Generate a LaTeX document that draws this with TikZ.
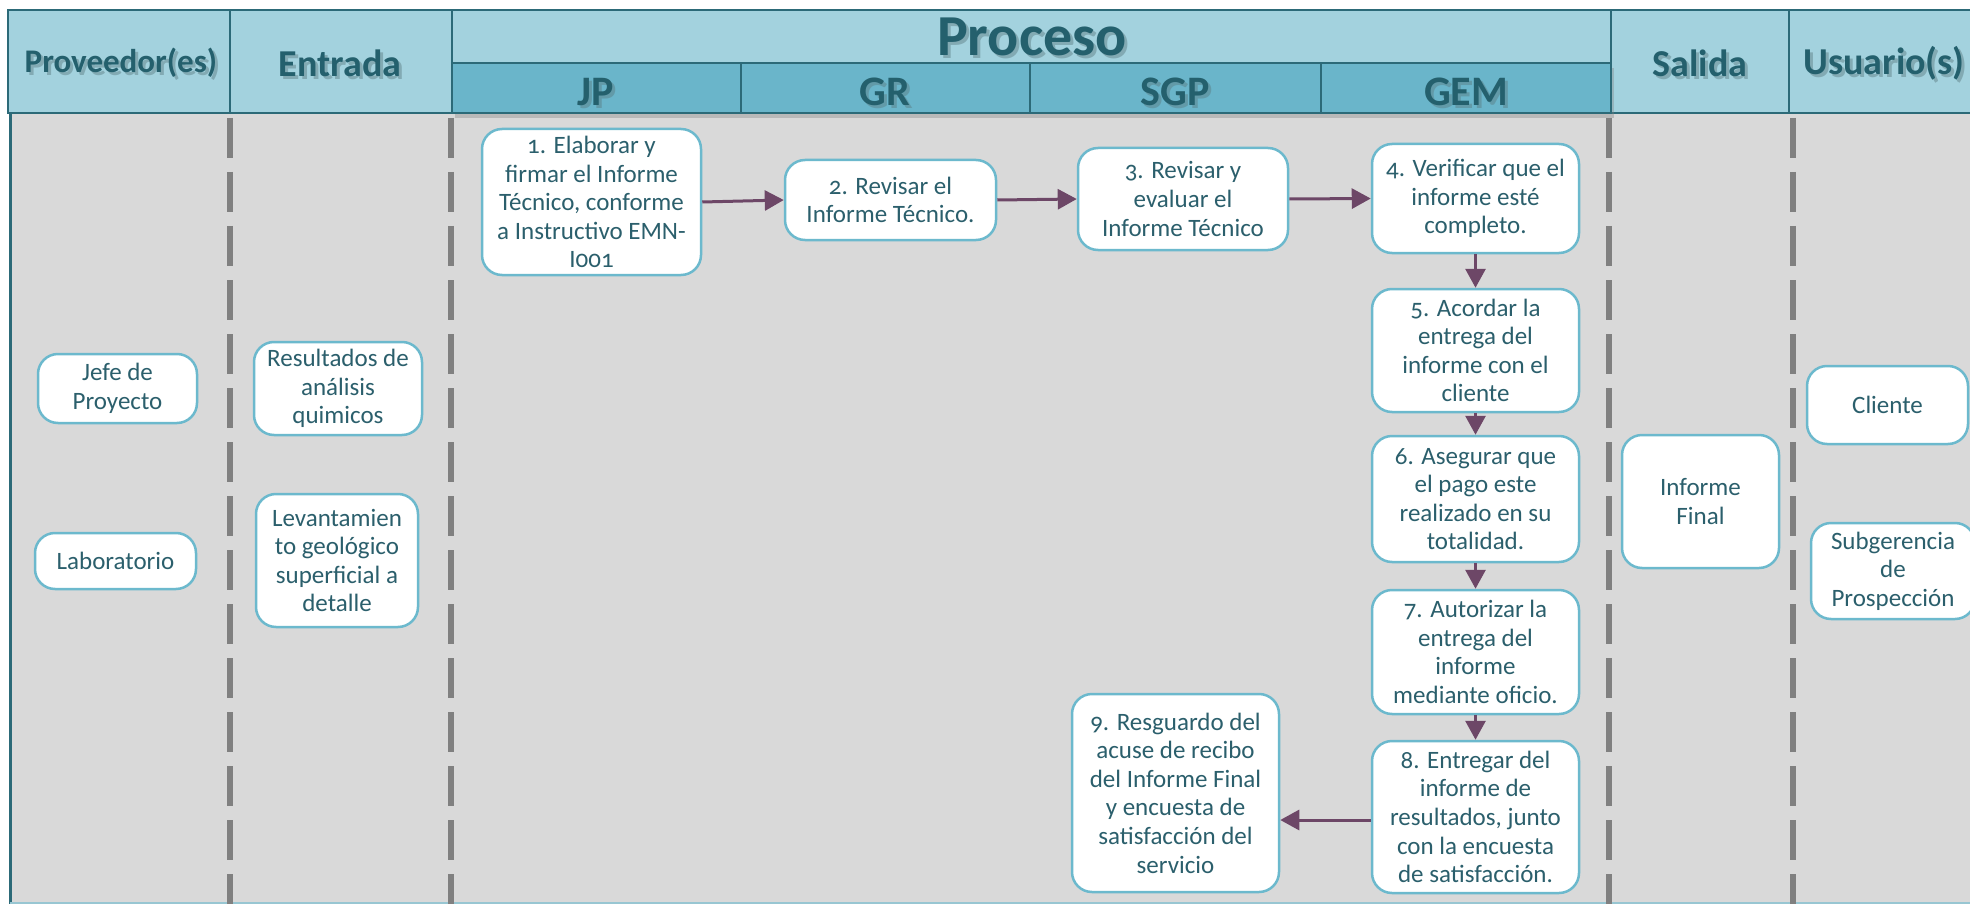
\documentclass[tikz,border=0pt]{standalone}
\usepackage{fontspec}
\setmainfont{Carlito}[Numbers=OldStyle]
\usetikzlibrary{arrows.meta,shadows}
\definecolor{hlight}{HTML}{A3D2DE}
\definecolor{hdark}{HTML}{6AB5CA}
\definecolor{hborder}{HTML}{2C6A78}
\definecolor{htext}{HTML}{24606D}
\definecolor{bodygray}{HTML}{D9D9D9}
\definecolor{dashgray}{HTML}{808080}
\definecolor{boxborder}{HTML}{6CB9CD}
\definecolor{boxtext}{HTML}{2B5F6C}
\definecolor{arrowc}{HTML}{6D4767}
\definecolor{shadowc}{HTML}{5A7A80}
\tikzset{
  hcell/.style={draw=hborder, line width=2.5pt},
  subcell/.style={hcell, fill=hdark, drop shadow={shadow xshift=3pt, shadow yshift=-5pt, opacity=0.35}},
  htxt/.style={text=htext, font=\bfseries\fontsize{#1}{#1}\selectfont, inner sep=0pt},
  hshadow/.style={text=shadowc, opacity=0.45, font=\bfseries\fontsize{#1}{#1}\selectfont, inner sep=0pt},
  sepline/.style={draw=dashgray, line width=6pt, dash pattern=on 40pt off 14pt},
  procbox/.style={draw=boxborder, fill=white, line width=2.5pt, rounded corners=20pt,
    text=boxtext, align=center, inner sep=0pt,
    font=\fontsize{25}{28.6}\selectfont},
  flow/.style={draw=arrowc, line width=3pt, -{Triangle[length=19pt,width=20pt]}},
}
\begin{document}
\begin{tikzpicture}[x=1pt,y=-1pt]
\useasboundingbox (0,0) rectangle (1970,904);
\fill[white] (0,0) rectangle (1970,904);
% body
\fill[bodygray] (10,113) rectangle (1980,903);
\draw[hborder, line width=3pt] (10,113) -- (10,904);
\draw[boxborder!60!bodygray, line width=2pt] (10,903) -- (1975,903);
% header cells
\draw[hcell, fill=hlight] (8,10) rectangle (230,113);
\draw[hcell, fill=hlight] (230,10) rectangle (452,113);
\draw[hcell, fill=hlight] (452,10) rectangle (1611,63);
\draw[hcell, fill=hlight] (1611,10) rectangle (1789,113);
\draw[hcell, fill=hlight] (1789,10) rectangle (1980,113);
\draw[subcell] (452,63) rectangle (741,113);
\draw[subcell] (741,63) rectangle (1030,113);
\draw[subcell] (1030,63) rectangle (1321,113);
\draw[subcell] (1321,63) rectangle (1611,113);
% header labels (shadow + text)
\node[hshadow=33] (sprov) at (124,66) {Proveedor(es)};
\node[htxt=33] (hprov) at (121,63) {Proveedor(es)};
\node[hshadow=38] (sent) at (343,66) {Entrada};
\node[htxt=38] (hent) at (340,63) {Entrada};
\node[hshadow=58] (sproc) at (1035,40) {Proceso};
\node[htxt=58] (hproc) at (1032,37) {Proceso};
\node[hshadow=38] (ssal) at (1703,66) {Salida};
\node[htxt=38] (hsal) at (1700,63) {Salida};
\node[hshadow=38] (susr) at (1887,66) {Usuario(s)};
\node[htxt=38] (husr) at (1884,63) {Usuario(s)};
\node[hshadow=42] (sjp) at (599,95) {JP};
\node[htxt=42] (hjp) at (596,92) {JP};
\node[hshadow=42] (sgr) at (888,95) {GR};
\node[htxt=42] (hgr) at (885,92) {GR};
\node[hshadow=42] (ssgp) at (1178,95) {SGP};
\node[htxt=42] (hsgp) at (1175,92) {SGP};
\node[hshadow=42] (sgem) at (1469,95) {GEM};
\node[htxt=42] (hgem) at (1466,92) {GEM};
% dashed separators
\draw[sepline] (230,118) -- (230,904);
\draw[sepline] (451,118) -- (451,904);
\draw[sepline] (1609,118) -- (1609,904);
\draw[sepline] (1793,118) -- (1793,904);
% side boxes
\node[procbox, minimum width=159pt, minimum height=69pt] (jefe) at (117.5,388.5) {Jefe de\\Proyecto};
\node[procbox, minimum width=161pt, minimum height=56pt] (lab) at (115.5,561) {Laboratorio};
\node[procbox, minimum width=168pt, minimum height=93pt] (res) at (338,388.5) {Resultados de\\análisis\\quimicos};
\node[procbox, minimum width=162pt, minimum height=133pt] (lev) at (337,560.5) {Levantamien\\to geológico\\superficial a\\detalle};
\node[procbox, minimum width=157pt, minimum height=133pt] (inf) at (1700.5,501.5) {Informe\\Final};
\node[procbox, minimum width=161pt, minimum height=78pt] (cli) at (1887.5,405) {Cliente};
\node[procbox, minimum width=164pt, minimum height=96pt] (sub) at (1893,571) {Subgerencia\\de\\Prospección};
% process boxes
\node[procbox, minimum width=219pt, minimum height=146pt] (b1) at (591.5,202) {1. Elaborar y\\firmar el Informe\\Técnico, conforme\\a Instructivo EMN-\\I001};
\node[procbox, minimum width=211pt, minimum height=80pt] (b2) at (890.5,200) {2. Revisar el\\Informe Técnico.};
\node[procbox, minimum width=210pt, minimum height=102pt] (b3) at (1183,199) {3. Revisar y\\evaluar el\\Informe Técnico};
\node[procbox, minimum width=207pt, minimum height=109pt] (b4) at (1475.5,198.5) {4. Verificar que el\\informe esté\\completo.};
\node[procbox, minimum width=207pt, minimum height=123pt] (b5) at (1475.5,350.5) {5. Acordar la\\entrega del\\informe con el\\cliente};
\node[procbox, minimum width=207pt, minimum height=126pt] (b6) at (1475.5,499) {6. Asegurar que\\el pago este\\realizado en su\\totalidad.};
\node[procbox, minimum width=207pt, minimum height=124pt] (b7) at (1475.5,652) {7. Autorizar la\\entrega del\\informe\\mediante oficio.};
\node[procbox, minimum width=207pt, minimum height=152pt] (b8) at (1475.5,817) {8. Entregar del\\informe de\\resultados, junto\\con la encuesta\\de satisfacción.};
\node[procbox, minimum width=207pt, minimum height=198pt] (b9) at (1175.5,793) {9. Resguardo del\\acuse de recibo\\del Informe Final\\y encuesta de\\satisfacción del\\servicio};
% connectors
\draw[flow] (b1.east) -- (b2.west);
\draw[flow] (b2.east) -- (b3.west);
\draw[flow] (b3.east) -- (b4.west);
\draw[flow] (b4.south) -- (b5.north);
\draw[flow] (b5.south) -- (b6.north);
\draw[flow] (b6.south) -- (b7.north);
\draw[flow] (b7.south) -- (b8.north);
\draw[flow] ([yshift=-3pt]b8.west) -- ([yshift=-3pt]b8.west -| b9.east);
\end{tikzpicture}
\end{document}
